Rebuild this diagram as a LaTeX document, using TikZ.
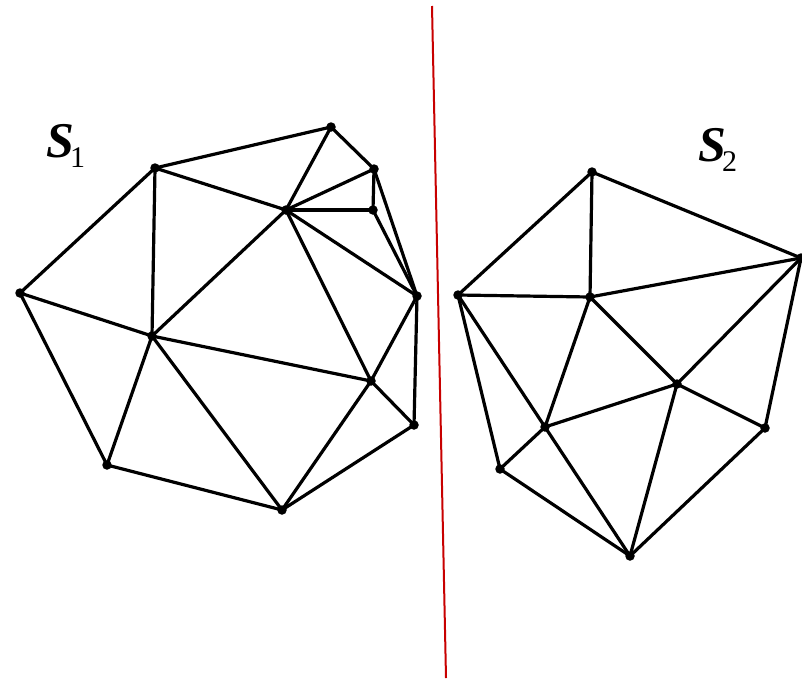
\documentclass[tikz,border=0pt]{standalone}
\usepackage{fontspec}
\setmainfont{Liberation Serif}
\begin{document}
\begin{tikzpicture}[x=1pt,y=-1pt,
  vtx/.style={circle,fill=black,inner sep=0pt,minimum size=9.5pt},
  edge/.style={line width=3.2pt,line cap=round},
  lbl/.style={inner sep=0pt,anchor=base west}]
\useasboundingbox (0,0) rectangle (802,678);
\clip (0,0) rectangle (802,678);
% S1 nodes
\node[vtx] (A) at (155,168) {};
\node[vtx] (B) at (331,127) {};
\node[vtx] (C) at (374,169) {};
\node[vtx] (D) at (286,210) {};
\node[vtx] (E) at (373,210) {};
\node[vtx] (F) at (20,293) {};
\node[vtx] (G) at (417,296) {};
\node[vtx] (H) at (152,336) {};
\node[vtx] (I) at (371,381) {};
\node[vtx] (J) at (414,425) {};
\node[vtx] (K) at (107,465) {};
\node[vtx] (L) at (282,510) {};
\foreach \a/\b in {A/B,A/F,A/H,A/D,B/D,B/C,C/D,C/E,C/G,D/E,D/H,D/G,D/I,E/G,F/H,F/K,H/K,H/L,H/I,G/I,G/J,I/J,I/L,K/L,L/J}
  \draw[edge] (\a.center) -- (\b.center);
% S2 nodes
\node[vtx] (P) at (592,172) {};
\node[vtx] (Q) at (801,258) {};
\node[vtx] (R) at (458,295) {};
\node[vtx] (S) at (590,297) {};
\node[vtx] (T) at (677,384) {};
\node[vtx] (U) at (765,428) {};
\node[vtx] (V) at (545,427) {};
\node[vtx] (W) at (500,469) {};
\node[vtx] (X) at (630,556) {};
\foreach \a/\b in {P/R,P/S,P/Q,R/S,S/Q,R/V,R/W,S/V,S/T,Q/T,Q/U,T/V,T/U,T/X,V/W,V/X,W/X,U/X}
  \draw[edge] (\a.center) -- (\b.center);
% divider
\coordinate (top) at (432,6);
\coordinate (bot) at (446,678);
\draw[line width=2pt,color={rgb,255:red,200;green,0;blue,0}] (top) -- (bot);
% labels
\node[lbl] (s1) at (46,157) {\fontsize{50}{50}\selectfont\bfseries\itshape S\kern-4pt\raisebox{-10pt}{\fontsize{30}{30}\selectfont\mdseries\upshape 1}};
\node[lbl] (s2) at (698,161) {\fontsize{50}{50}\selectfont\bfseries\itshape S\kern-4pt\raisebox{-10pt}{\fontsize{30}{30}\selectfont\mdseries\upshape 2}};
\end{tikzpicture}
\end{document}
